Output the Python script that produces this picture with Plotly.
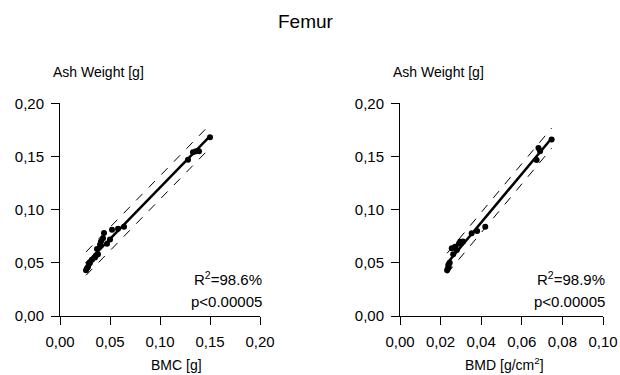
import numpy as np
import plotly.graph_objects as go

# ---- data ----
bmc = [0.026, 0.027, 0.028, 0.029, 0.030, 0.032, 0.035, 0.036, 0.037, 0.038, 0.040,
       0.041, 0.043, 0.044, 0.047, 0.050, 0.052, 0.058, 0.064, 0.128, 0.133, 0.136, 0.139, 0.150]
ash_bmc = [0.043, 0.045, 0.046, 0.049, 0.050, 0.053, 0.055, 0.057, 0.063, 0.058, 0.067,
           0.070, 0.073, 0.078, 0.068, 0.072, 0.081, 0.082, 0.084, 0.147, 0.154, 0.155, 0.155, 0.168]

bmd = [0.0232, 0.0236, 0.0238, 0.0240, 0.0245, 0.0255, 0.0262, 0.0271, 0.0280, 0.0290,
       0.0296, 0.0310, 0.0353, 0.0380, 0.0420, 0.0673, 0.0682, 0.0690, 0.0747]
ash_bmd = [0.043, 0.045, 0.048, 0.046, 0.050, 0.0636, 0.058, 0.065, 0.062, 0.068,
           0.0698, 0.070, 0.0777, 0.080, 0.084, 0.1466, 0.158, 0.155, 0.166]

band_bmc = 0.011   # half-width of dashed bands
band_bmd = 0.0095

stats_bmc = ["R<sup>2</sup>=98.6%", "p<0.00005"]
stats_bmd = ["R<sup>2</sup>=98.9%", "p<0.00005"]

y_ticks = [0.0, 0.05, 0.10, 0.15, 0.20]
x_ticks_bmc = [0.0, 0.05, 0.10, 0.15, 0.20]
x_ticks_bmd = [0.0, 0.02, 0.04, 0.06, 0.08, 0.10]

FONT = "Liberation Sans, Arial, sans-serif"

fig = go.Figure()


def add_panel(x, y, band, xa, ya):
    x = np.array(x)
    y = np.array(y)
    m, b = np.polyfit(x, y, 1)
    xs = np.array([x.min(), x.max()])
    fit = m * xs + b
    for off in (band, -band):
        fig.add_trace(go.Scatter(x=xs, y=fit + off, mode="lines", xaxis=xa, yaxis=ya,
                                 line=dict(color="black", width=1, dash="dash"), showlegend=False))
    fig.add_trace(go.Scatter(x=xs, y=fit, mode="lines", xaxis=xa, yaxis=ya,
                             line=dict(color="black", width=2.5), showlegend=False))
    fig.add_trace(go.Scatter(x=x, y=y, mode="markers", xaxis=xa, yaxis=ya,
                             marker=dict(color="black", size=6), showlegend=False))


add_panel(bmc, ash_bmc, band_bmc, "x", "y")
add_panel(bmd, ash_bmd, band_bmd, "x2", "y2")

ydom = [1 - 316 / 375, 1 - 103.3 / 375]
axis_common = dict(showgrid=False, zeroline=False, showline=True, linecolor="black",
                   linewidth=1, ticks="outside", ticklen=8, tickcolor="black",
                   tickfont=dict(family=FONT, size=15, color="black"), tickformat=".2f",
                   ticklabelstandoff=4)

fig.update_layout(
    width=620, height=375,
    margin=dict(l=0, r=0, t=0, b=0, autoexpand=False),
    paper_bgcolor="white", plot_bgcolor="white",
    separators=",.",
    font=dict(family=FONT, color="black"),
    xaxis=dict(domain=[60 / 620, 260 / 620], range=[0, 0.20], tickvals=x_ticks_bmc,
               anchor="y", **axis_common),
    yaxis=dict(domain=ydom, range=[0, 0.20], tickvals=y_ticks, anchor="x", **axis_common),
    xaxis2=dict(domain=[400 / 620, 603 / 620], range=[0, 0.10], tickvals=x_ticks_bmd,
                anchor="y2", **axis_common),
    yaxis2=dict(domain=ydom, range=[0, 0.20], tickvals=y_ticks, anchor="x2", **axis_common),
)


def paper_text(text, px, py, size, xanchor="center"):
    return dict(text=text, x=px / 620, y=1 - py / 375, xref="paper", yref="paper",
                showarrow=False, font=dict(size=size, family=FONT, color="black"),
                xanchor=xanchor, yanchor="middle")


ann = [paper_text("Femur", 306, 22, 19)]
ann.append(paper_text("Ash Weight [g]", 51, 72, 14, "left"))
ann.append(paper_text("Ash Weight [g]", 391, 72, 14, "left"))
ann.append(paper_text("BMC [g]", 176, 365, 14))
ann.append(paper_text("BMD [g/cm<sup>2</sup>]", 504, 364, 14))
for right, stats in [(264, stats_bmc), (607, stats_bmd)]:
    for i, t in enumerate(stats):
        ann.append(paper_text(t, right, 278 + 23 * i, 15, "right"))
fig.update_layout(annotations=ann)

fig.write_html("out.html", config={"displayModeBar": False},
               post_script="document.body.style.margin='0px';document.body.style.overflow='hidden';")
